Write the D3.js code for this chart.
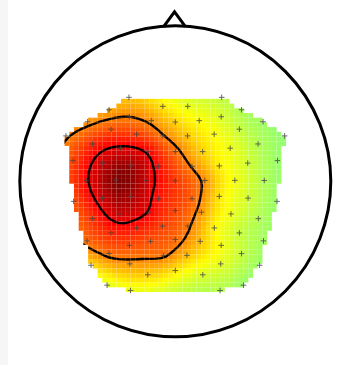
<!DOCTYPE html>
<html><head><meta charset="utf-8">
<script src="https://cdn.jsdelivr.net/npm/d3@7"></script>
<style>html,body{margin:0;padding:0;background:#fff;overflow:hidden}</style>
</head><body>
<svg id="chart" width="349" height="365"></svg>
<script>
// Channel positions in head units (radius 1, +x right, +y toward the nose)
const chanX = [
  -0.298, 0.298,
  -0.080, 0.080, -0.426, 0.426,
  0, -0.154, 0.154, -0.295, 0.295, -0.564, 0.564,
  -0.079, 0.079, -0.250, 0.250, -0.412, 0.412, -0.703, 0.703,
  0, -0.176, 0.176, -0.353, 0.353, -0.532, 0.532,
  -0.107, 0.107, -0.283, 0.283, -0.466, 0.466, -0.657, 0.657,
  0, -0.190, 0.190, -0.383, 0.383, -0.572, 0.572,
  -0.107, 0.107, -0.283, 0.283, -0.468, 0.468, -0.654, 0.654,
  0, -0.169, 0.169, -0.358, 0.358, -0.534, 0.534,
  -0.081, 0.081, -0.251, 0.251, -0.412, 0.412,
  0, -0.160, 0.160, -0.295, 0.295, -0.567, 0.567,
  -0.075, 0.075, -0.426, 0.426,
  0, -0.292, 0.292, -0.542, 0.542,
  -0.177, 0.177,
  -0.439, 0.439,
  -0.288, 0.288
];
const chanY = [
  0.540, 0.540,
  0.482, 0.482, 0.460, 0.460,
  0.381, 0.390, 0.390, 0.415, 0.415, 0.383, 0.383,
  0.292, 0.292, 0.303, 0.303, 0.335, 0.335, 0.292, 0.292,
  0.191, 0.191, 0.191, 0.213, 0.213, 0.240, 0.240,
  0.096, 0.096, 0.099, 0.099, 0.117, 0.117, 0.133, 0.133,
  0.003, 0.005, 0.005, 0.006, 0.006, 0.005, 0.005,
  -0.112, -0.112, -0.097, -0.097, -0.108, -0.108, -0.129, -0.129,
  -0.189, -0.199, -0.199, -0.210, -0.210, -0.240, -0.240,
  -0.288, -0.288, -0.300, -0.300, -0.332, -0.332,
  -0.375, -0.386, -0.386, -0.412, -0.412, -0.383, -0.383,
  -0.476, -0.476, -0.465, -0.465,
  -0.574, -0.531, -0.531, -0.540, -0.540,
  -0.601, -0.601,
  -0.668, -0.668,
  -0.702, -0.702
];
// Amplitude at each channel
const chanValue = [
  0.36, 0.13,
  0.30, 0.21, 0.42, 0.09,
  0.34, 0.47, 0.25, 0.50, 0.18, 0.46, 0.06,
  0.51, 0.36, 0.63, 0.25, 0.60, 0.14, 0.48, 0.03,
  0.54, 0.76, 0.34, 0.80, 0.22, 0.68, 0.10,
  0.73, 0.49, 0.95, 0.28, 0.86, 0.16, 0.62, 0.05,
  0.65, 0.86, 0.47, 1.00, 0.23, 0.76, 0.10,
  0.72, 0.57, 0.93, 0.30, 0.85, 0.16, 0.60, 0.05,
  0.62, 0.77, 0.45, 0.86, 0.22, 0.66, 0.10,
  0.63, 0.52, 0.71, 0.27, 0.68, 0.14,
  0.55, 0.60, 0.38, 0.61, 0.24, 0.55, 0.07,
  0.52, 0.38, 0.54, 0.14,
  0.30, 0.46, 0.20, 0.32, 0.05,
  0.35, 0.18,
  0.19, 0.05,
  0.21, 0.10
];
const contourLevels = [0.5, 0.78];
const gridSize = 67;

const cx = 175.3, cy = 181.3, headR = 155.5;
const x = d3.scaleLinear().domain([-1, 1]).range([cx - headR, cx + headR]);
const y = d3.scaleLinear().domain([-1, 1]).range([cy + headR, cy - headR]);

const svg = d3.select("#chart");
svg.append("rect").attr("width", 349).attr("height", 365).attr("fill", "#fff");
svg.append("rect").attr("width", 8).attr("height", 365).attr("fill", "#f6f6f6");

// Biharmonic spline interpolation (Green's function r^2 (ln r - 1))
const n = chanX.length;
const green = r => (r === 0 ? 0 : r * r * (Math.log(r) - 1));
const M = [];
for (let i = 0; i < n; i++) {
  const row = [];
  for (let j = 0; j < n; j++) row.push(green(Math.hypot(chanX[i] - chanX[j], chanY[i] - chanY[j])));
  row.push(chanValue[i]);
  M.push(row);
}
for (let c = 0; c < n; c++) {
  let p = c;
  for (let r = c + 1; r < n; r++) if (Math.abs(M[r][c]) > Math.abs(M[p][c])) p = r;
  [M[c], M[p]] = [M[p], M[c]];
  for (let r = c + 1; r < n; r++) {
    const f = M[r][c] / M[c][c];
    for (let k = c; k <= n; k++) M[r][k] -= f * M[c][k];
  }
}
const w = new Array(n).fill(0);
for (let r = n - 1; r >= 0; r--) {
  let s = M[r][n];
  for (let k = r + 1; k < n; k++) s -= M[r][k] * w[k];
  w[r] = s / M[r][r];
}
const interp = (px, py) => {
  let s = 0;
  for (let j = 0; j < n; j++) s += w[j] * green(Math.hypot(px - chanX[j], py - chanY[j]));
  return s;
};

const gx = d3.range(gridSize).map(i => -1 + 2 * i / (gridSize - 1));
const gy = d3.range(gridSize).map(j => 1 - 2 * j / (gridSize - 1));
const values = new Array(gridSize * gridSize);
for (let j = 0; j < gridSize; j++)
  for (let i = 0; i < gridSize; i++) values[j * gridSize + i] = interp(gx[i], gy[j]);

// Only cells inside the hull of the channels are painted
const hull = d3.polygonHull(chanX.map((d, i) => [x(d), y(chanY[i])]));
const cells = [];
for (let j = 0; j < gridSize; j++)
  for (let i = 0; i < gridSize; i++)
    if (d3.polygonContains(hull, [x(gx[i]), y(gy[j])])) cells.push({ i, j, v: values[j * gridSize + i] });

const cmax = d3.max(cells, d => Math.abs(d.v));
const color = d3.scaleLinear()
  .domain([-1, -0.75, -0.25, 0.25, 0.75, 1].map(t => t * cmax))
  .range(["#000080", "#0000ff", "#00ffff", "#ffff00", "#ff0000", "#800000"])
  .clamp(true);

const step = x(gx[1]) - x(gx[0]);
const cellRect = sel => sel
  .attr("x", d => x(gx[d.i]) - step / 2)
  .attr("y", d => y(gy[d.j]) - step / 2)
  .attr("width", step).attr("height", step);

svg.append("clipPath").attr("id", "mapClip")
  .selectAll("rect").data(cells).join("rect").call(cellRect);

svg.append("g").selectAll("rect").data(cells).join("rect")
  .call(cellRect).attr("fill", d => color(d.v));

// Contour lines
const toPx = d3.geoTransform({
  point(px, py) {
    this.stream.point(x(-1 + 2 * (px - 0.5) / (gridSize - 1)), y(1 - 2 * (py - 0.5) / (gridSize - 1)));
  }
});
const contours = d3.contours().size([gridSize, gridSize]).thresholds(contourLevels)(values);
svg.append("g").attr("clip-path", "url(#mapClip)")
  .selectAll("path").data(contours).join("path")
  .attr("d", d3.geoPath(toPx))
  .attr("fill", "none").attr("stroke", "#000").attr("stroke-width", 2.4)
  .attr("stroke-linejoin", "round");

// Channel markers
svg.append("g").selectAll("path").data(chanX).join("path")
  .attr("transform", (d, i) => `translate(${x(d)},${y(chanY[i])})`)
  .attr("d", "M-2.8,0H2.8M0,-2.8V2.8")
  .attr("stroke", "#444").attr("stroke-width", 1).attr("opacity", 0.8);

// Head outline and nose
svg.append("circle").attr("cx", cx).attr("cy", cy).attr("r", headR)
  .attr("fill", "none").attr("stroke", "#000").attr("stroke-width", 3);
svg.append("path")
  .attr("d", d3.line()([[x(-0.075), y(0.995)], [x(-0.005), y(1.09)], [x(0.065), y(0.995)]]))
  .attr("fill", "none").attr("stroke", "#000").attr("stroke-width", 3)
  .attr("stroke-linejoin", "miter");
</script>
</body></html>
